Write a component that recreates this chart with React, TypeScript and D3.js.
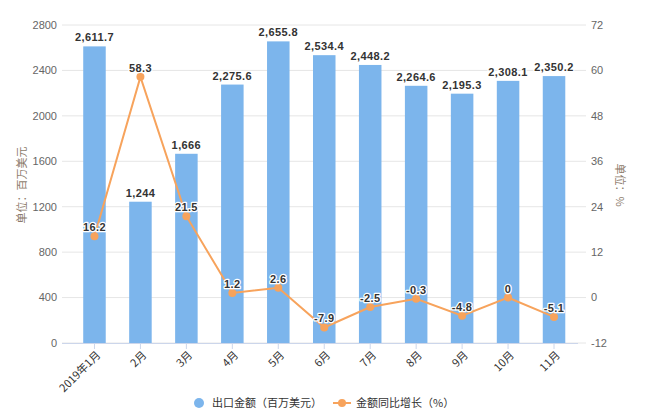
import React from "react";
import * as d3 from "d3";

const categories = ["2019年1月", "2月", "3月", "4月", "5月", "6月", "7月", "8月", "9月", "10月", "11月"];
const exportValues = [2611.7, 1244, 1666, 2275.6, 2655.8, 2534.4, 2448.2, 2264.6, 2195.3, 2308.1, 2350.2];
const growthValues = [16.2, 58.3, 21.5, 1.2, 2.6, -7.9, -2.5, -0.3, -4.8, 0, -5.1];
const leftTicks = [0, 400, 800, 1200, 1600, 2000, 2400, 2800];
const rightTicks = [-12, 0, 12, 24, 36, 48, 60, 72];
const seriesNames = ["出口金额（百万美元）", "金额同比增长（%）"];
const leftTitle = "单位：百万美元";
const rightTitle = "单位：%";

const W = 650;
const H = 420;
const plotLeft = 62;
const plotRight = 578;
const gridRight = 586;
const yTop = 25;
const yBottom = 343;
const BAR = "#7cb5ec";
const LINE = "#f7a35c";
const FONT = "'Liberation Sans', 'Noto Sans CJK SC', sans-serif";
const CJK = "'Noto Sans CJK SC', sans-serif";

function fmt(v: number) {
  return d3.format(",")(v).replace("\u2212", "-");
}

export default function App() {
  const x = d3.scaleBand<string>().domain(categories).range([71.5, 577]).padding(0);
  const barW = x.step() * 0.49;
  const yL = d3.scaleLinear().domain([0, 2800]).range([yBottom, yTop]);
  const yR = d3.scaleLinear().domain([-12, 72]).range([yBottom, yTop]);
  const cx = (c: string) => (x(c) as number) + x.bandwidth() / 2;

  const line = d3
    .line<number>()
    .x((_, i) => cx(categories[i]))
    .y((d) => yR(d));

  return (
    <svg width={W} height={H} style={{ position: "absolute", left: 0, top: 0, background: "#fff" }}>
      {leftTicks.map((t) => (
        <line key={"g" + t} x1={plotLeft} x2={gridRight} y1={yL(t)} y2={yL(t)} stroke="#e6e6e6" strokeWidth={1} />
      ))}
      {leftTicks.map((t) => (
        <text key={"l" + t} x={57} y={yL(t)} dy="0.35em" textAnchor="end" fontSize={11} fill="#666" fontFamily={FONT}>
          {t}
        </text>
      ))}
      {rightTicks.map((t) => (
        <text key={"r" + t} x={591} y={yR(t)} dy="0.35em" textAnchor="start" fontSize={11} fill="#666" fontFamily={FONT}>
          {t}
        </text>
      ))}
      <text
        transform={`translate(22,185) rotate(-90)`}
        textAnchor="middle"
        dy="0.35em"
        fontSize={11}
        fill="#8c7b6b"
        fontFamily={CJK}
      >
        {leftTitle}
      </text>
      <text
        transform={`translate(620,185) rotate(90)`}
        textAnchor="middle"
        dy="0.35em"
        fontSize={11}
        fill="#8c7b6b"
        fontFamily={CJK}
      >
        {rightTitle}
      </text>
      {exportValues.map((v, i) => (
        <rect
          key={"b" + i}
          x={cx(categories[i]) - barW / 2}
          y={yL(v)}
          width={barW}
          height={yL(0) - yL(v)}
          fill={BAR}
        />
      ))}
      <line x1={plotLeft} x2={plotRight} y1={yBottom + 0.5} y2={yBottom + 0.5} stroke="#ccd6eb" strokeWidth={1} />
      {categories.map((c) => (
        <line key={"t" + c} x1={cx(c)} x2={cx(c)} y1={yBottom} y2={yBottom + 6} stroke="#ccd6eb" strokeWidth={1} />
      ))}
      {categories.map((c) => (
        <text
          key={"x" + c}
          transform={`translate(${cx(c) + 4},${yBottom + 10}) rotate(-45)`}
          textAnchor="end"
          dy="0.35em"
          fontSize={11}
          fill="#333"
          fontFamily={CJK}
        >
          {c}
        </text>
      ))}
      <path d={line(growthValues) || ""} fill="none" stroke={LINE} strokeWidth={2} />
      {growthValues.map((v, i) => (
        <circle key={"p" + i} cx={cx(categories[i])} cy={yR(v)} r={4} fill={LINE} />
      ))}
      {exportValues.map((v, i) => (
        <text
          key={"bl" + i}
          x={cx(categories[i])}
          y={yL(v) - 5}
          textAnchor="middle"
          fontSize={11}
          fontWeight="bold"
          fill="#333"
          stroke="#fff"
          strokeWidth={2.5}
          paintOrder="stroke"
          strokeLinejoin="round"
          letterSpacing={0.4}
          fontFamily={FONT}
        >
          {fmt(v)}
        </text>
      ))}
      {growthValues.map((v, i) => (
        <text
          key={"ll" + i}
          x={cx(categories[i])}
          y={yR(v) - 5}
          textAnchor="middle"
          fontSize={11}
          fontWeight="bold"
          fill="#333"
          stroke="#fff"
          strokeWidth={2.5}
          paintOrder="stroke"
          strokeLinejoin="round"
          letterSpacing={0.4}
          fontFamily={FONT}
        >
          {fmt(v)}
        </text>
      ))}
      <circle cx={199} cy={403} r={5} fill={BAR} />
      <text x={212} y={403} dy="0.35em" fontSize={11} fill="#333" fontFamily={CJK}>
        {seriesNames[0]}
      </text>
      <line x1={333} x2={351} y1={403} y2={403} stroke={LINE} strokeWidth={2} />
      <circle cx={342} cy={403} r={4} fill={LINE} />
      <text x={356} y={403} dy="0.35em" fontSize={11} fill="#333" fontFamily={CJK}>
        {seriesNames[1]}
      </text>
    </svg>
  );
}
